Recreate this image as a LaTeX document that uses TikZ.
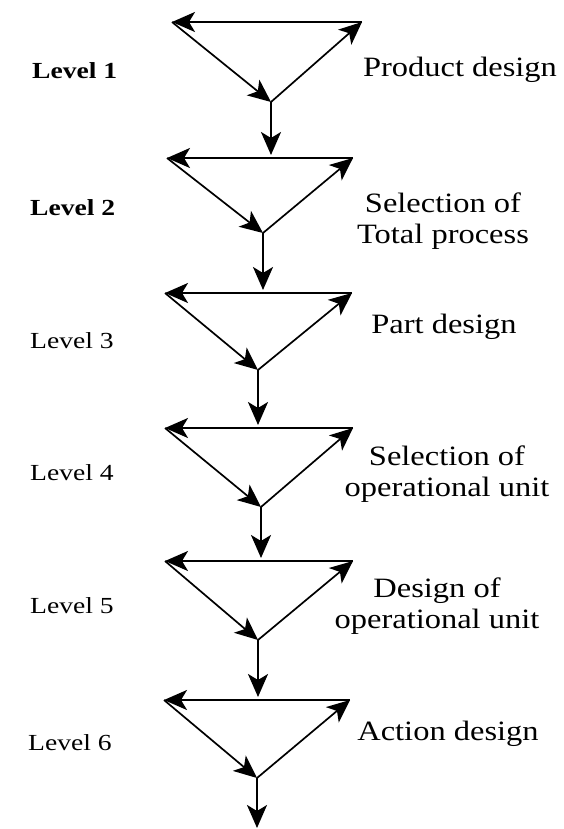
\documentclass[tikz,border=0pt]{standalone}
\usepackage{fontspec}
\setmainfont{Liberation Serif}
\newfontfamily\lblfont[FakeStretch=1.16]{Liberation Serif}
\newfontfamily\lvlfont[FakeStretch=1.2]{Liberation Serif}
\usetikzlibrary{arrows.meta}
\begin{document}
\begin{tikzpicture}[x=1pt,y=1pt,
  bigtip/.style={-{Stealth[length=23pt,width=20pt,inset=6pt]}},
  topedge/.style={bigtip,line width=2.2pt},
  diag/.style={bigtip,line width=1.7pt},
  downarr/.style={bigtip,line width=2.2pt},
  lbl/.style={font=\lblfont\fontsize{28}{31}\selectfont,align=center,inner sep=0pt,anchor=base},
  lvl/.style={font=\lvlfont\fontsize{23}{26}\selectfont,inner sep=0pt,anchor=base west},
  lvlb/.style={lvl,font=\lvlfont\bfseries\fontsize{23}{26}\selectfont}]
\useasboundingbox (0,0) rectangle (563,-829);
% triangle vertices
\coordinate (L1) at (172,-22);  \coordinate (R1) at (362,-22);  \coordinate (B1) at (271,-102);
\coordinate (L2) at (167,-158); \coordinate (R2) at (353,-158); \coordinate (B2) at (263,-233);
\coordinate (L3) at (165,-293); \coordinate (R3) at (352,-293); \coordinate (B3) at (258,-370);
\coordinate (L4) at (165,-428); \coordinate (R4) at (353,-428); \coordinate (B4) at (261,-507);
\coordinate (L5) at (165,-561); \coordinate (R5) at (353,-561); \coordinate (B5) at (258,-640);
\coordinate (L6) at (164,-700); \coordinate (R6) at (350,-700); \coordinate (B6) at (257,-778);
% down-arrow ends
\coordinate (D1) at (271,-155);
\coordinate (D2) at (263,-290);
\coordinate (D3) at (258,-425);
\coordinate (D4) at (261,-558);
\coordinate (D5) at (258,-697);
\coordinate (D6) at (257,-828);
\foreach \i in {1,...,6}{
  \draw[topedge] (R\i) -- (L\i);
  \draw[diag] (L\i) -- (B\i);
  \draw[diag] (B\i) -- (R\i);
  \draw[downarr] (B\i) -- (D\i);
}
% level labels
\node[lvlb] (v1) at (32,-79) {Level 1};
\node[lvlb] (v2) at (30,-215) {Level 2};
\node[lvl] (v3) at (30,-348) {Level 3};
\node[lvl] (v4) at (30,-480) {Level 4};
\node[lvl] (v5) at (30,-613) {Level 5};
\node[lvl] (v6) at (28,-750) {Level 6};
% stage labels
\node[lbl] (t1) at (460,-77) {Product design};
\node[lbl] (t2) at (443,-243) {Selection of\\Total process};
\node[lbl] (t3) at (444,-333) {Part design};
\node[lbl] (t4) at (447,-496) {Selection of\\operational unit};
\node[lbl] (t5) at (437,-628) {Design of\\operational unit};
\node[lbl] (t6) at (448,-740) {Action design};
\end{tikzpicture}
\end{document}
